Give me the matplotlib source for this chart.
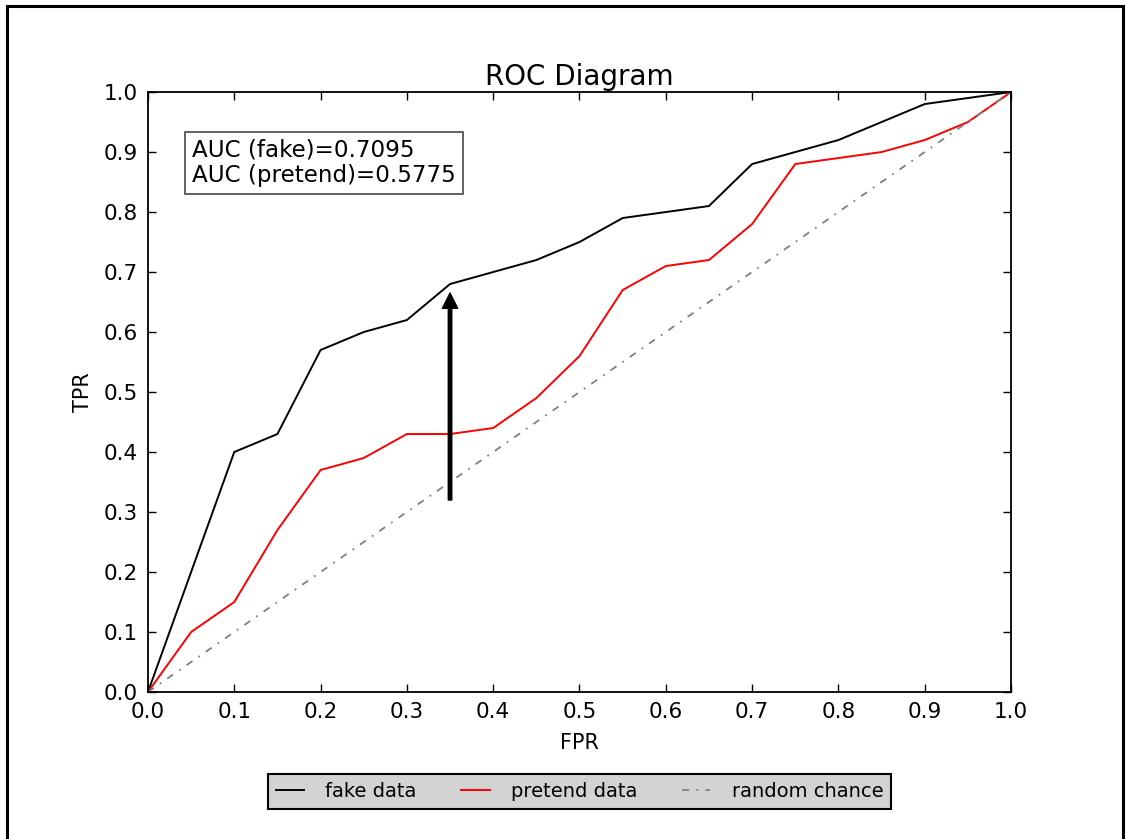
import matplotlib.pyplot as plt
import matplotlib.patches as patches

fpr = [0.0, 0.05, 0.1, 0.15, 0.2, 0.25, 0.3, 0.35, 0.4, 0.45, 0.5,
       0.55, 0.6, 0.65, 0.7, 0.75, 0.8, 0.85, 0.9, 0.95, 1.0]
tpr_fake = [0.0, 0.2, 0.4, 0.43, 0.57, 0.6, 0.62, 0.68, 0.7, 0.72, 0.75,
            0.79, 0.8, 0.81, 0.88, 0.9, 0.92, 0.95, 0.98, 0.99, 1.0]
tpr_pretend = [0.0, 0.1, 0.15, 0.27, 0.37, 0.39, 0.43, 0.43, 0.44, 0.49, 0.56,
               0.67, 0.71, 0.72, 0.78, 0.88, 0.89, 0.9, 0.92, 0.95, 1.0]
chance = [0.0, 1.0]

auc_fake = 0.7095
auc_pretend = 0.5775

arrow_x = 0.35
arrow_from = 0.32
arrow_to = 0.665

ticks = [0.0, 0.1, 0.2, 0.3, 0.4, 0.5, 0.6, 0.7, 0.8, 0.9, 1.0]

fig = plt.figure(figsize=(11.26, 8.39), dpi=100)
ax = fig.add_axes([0.1314, 0.1752, 0.7665, 0.7151])

# outer frame around the figure (bottom edge runs off the image)
frame = patches.Rectangle((7 / 1126, -0.05), (1123 - 7) / 1126, 1.05 - 6 / 839,
                          transform=fig.transFigure, fill=False, edgecolor="black",
                          linewidth=2.2, clip_on=False)
fig.patches.append(frame)

ax.plot(fpr, tpr_fake, color="black", lw=1.4, label="fake data")
ax.plot(fpr, tpr_pretend, color="red", lw=1.4, label="pretend data")
ax.plot(chance, chance, color="gray", lw=1.3, dashes=(4, 4, 1, 4),
        label="random chance")

ax.annotate("", xy=(arrow_x, arrow_to), xytext=(arrow_x, arrow_from),
            arrowprops=dict(facecolor="black", edgecolor="black",
                            width=2.5, headwidth=11, headlength=11))

ax.text(0.051, 0.8825, f"AUC (fake)={auc_fake}\nAUC (pretend)={auc_pretend}",
        transform=ax.transAxes, fontsize=16.6, va="center", ha="left",
        linespacing=1.12,
        bbox=dict(boxstyle="square,pad=0.3", facecolor="white", edgecolor="#555555", lw=1.3))

ax.set_xlim(0, 1)
ax.set_ylim(0, 1)
ax.set_xticks(ticks)
ax.set_yticks(ticks)
ax.set_xticklabels([f"{t:.1f}" for t in ticks])
ax.set_yticklabels([f"{t:.1f}" for t in ticks])
ax.tick_params(direction="in", top=True, right=True, length=6, width=1,
               labelsize=15.5, pad=7)
for s in ax.spines.values():
    s.set_linewidth(1.3)

ax.set_title("ROC Diagram", fontsize=20, pad=5)
ax.set_xlabel("FPR", fontsize=15, labelpad=8)
ax.set_ylabel("TPR", fontsize=15, labelpad=8)

leg = ax.legend(loc="upper center", bbox_to_anchor=(0.5, -0.137), ncol=3,
                fontsize=14, fancybox=False, framealpha=1,
                facecolor="lightgray", edgecolor="black",
                handlelength=1.45, handletextpad=1.1, columnspacing=2.3,
                borderpad=0.4, borderaxespad=0)
leg.get_frame().set_linewidth(1.5)

plt.savefig("out.png", dpi=100)
plt.close()
